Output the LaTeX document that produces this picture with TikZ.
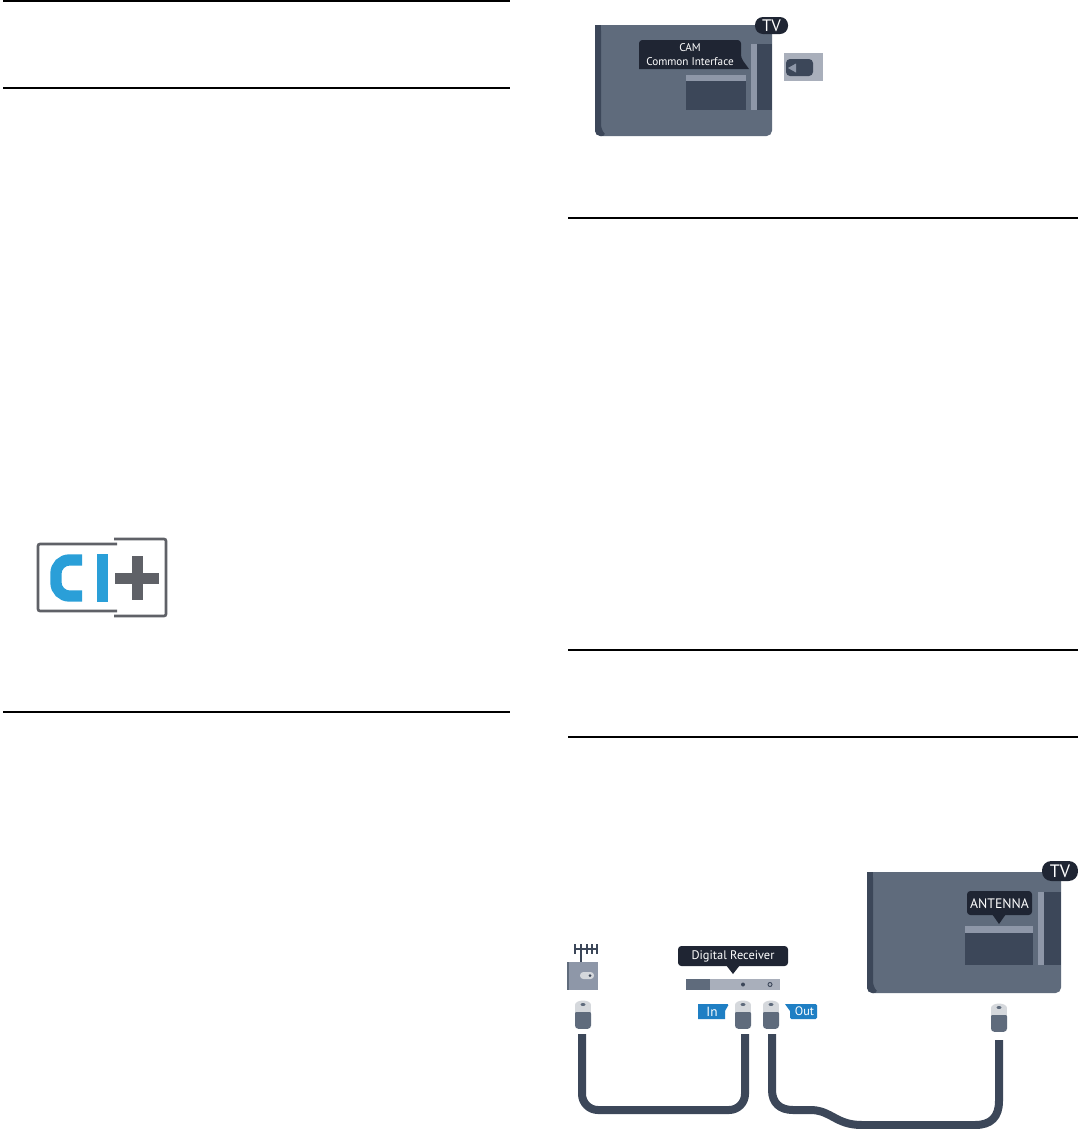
\documentclass[tikz,border=0pt]{standalone}
\usepackage{fontspec}
\setmainfont{PT Sans}
\usepackage{xcolor}
\usetikzlibrary{calc}
\definecolor{tvbody}{HTML}{5F6B7C}
\definecolor{tvdark}{HTML}{3C4759}
\definecolor{tvlight}{HTML}{8E97A8}
\definecolor{tvpanel}{HTML}{A9AFBB}
\definecolor{tagdark}{HTML}{1F2533}
\definecolor{tagblue}{HTML}{1F7FC4}
\definecolor{ciblue}{HTML}{2A9FD8}
\definecolor{cigray}{HTML}{5F6167}
\definecolor{plugcap}{HTML}{D5D8DC}
\tikzset{
  rule/.style={black,line width=1.5pt},
  cable/.style={tvdark,line width=6pt},
  tagtext/.style={text=white,inner sep=0pt,align=center},
  plugbody/.style={fill=tvbody,rounded corners=2.5pt,minimum width=12pt,minimum height=14pt,inner sep=0pt},
  cibracket/.style={cigray,line width=2pt,rounded corners=1.5pt},
  aerial/.style={tvdark,line width=1.4pt}
}
\begin{document}
\begin{tikzpicture}[x=0.75pt,y=-0.75pt]
\fill[white] (0,0) rectangle (1078,1129);
\useasboundingbox (0,0) rectangle (1078,1129);
% rules
\draw[rule] (3,1) -- (510,1);
\draw[rule] (3,88) -- (510,88);
\draw[rule] (3,712) -- (510,712);
\draw[rule] (568,218) -- (1078,218);
\draw[rule] (568,650) -- (1078,650);
\draw[rule] (568,737) -- (1078,737);
% CI+ logo
\draw[cibracket] (117,544) -- (38,544) -- (38,611) -- (117,611);
\draw[cibracket] (114,539) -- (166,539) -- (166,616) -- (114,616);
\draw[ciblue,line width=8.5pt,rounded corners=10pt] (82,560) -- (56,560) -- (56,596) -- (82,596);
\fill[ciblue] (97,554) rectangle (108,602);
\fill[cigray] (115,573) rectangle (159,584);
\fill[cigray] (132,556) rectangle (143,600);
% TV with CAM
\fill[tvbody,rounded corners=4pt] (595,25) -- (595,136) -- (772,136) -- (772,25) [sharp corners] -- cycle;
\fill[tvbody] (595,25) rectangle (772,60);
\fill[tvdark,rounded corners=4pt] (595,25) -- (595,136) -- (607,136) -- (601,130) -- (601,25) [sharp corners] -- cycle;
\fill[tvdark] (595,25) rectangle (601,60);
\fill[tvdark] (757,44) rectangle (772,110);
\fill[tvlight] (751,44) rectangle (757,110);
\fill[tvlight] (686,75) rectangle (746,81);
\fill[tvdark] (686,81) rectangle (746,110);
\fill[tagdark,rounded corners=2.5pt] (639,40) -- (741,40) -- (741,58) [sharp corners] -- (749,69) -- (639,69) [rounded corners=2.5pt] -- cycle;
\node[tagtext,font=\fontsize{8.4pt}{10.5pt}\selectfont] (camtag) at (690,54.5) {CAM\\Common Interface};
\fill[tagdark,rounded corners=6pt] (755,17) rectangle (788,34);
\node[tagtext,font=\fontsize{12.5pt}{13pt}\selectfont] (tvtagA) at (771.5,25.5) {TV};
% CAM card
\fill[tvpanel] (784,53) rectangle (823,81);
\fill[tvdark,rounded corners=3pt] (786,59) rectangle (813,76);
\fill[tvlight] (796,63.5) -- (796,72.5) -- (788,68) -- cycle;
% TV with antenna socket
\fill[tvbody,rounded corners=4pt] (867,872) -- (867,993) -- (1061,993) -- (1061,872) [sharp corners] -- cycle;
\fill[tvbody] (867,872) rectangle (1061,910);
\fill[tvdark,rounded corners=4pt] (867,872) -- (867,993) -- (879,993) -- (873,987) -- (873,872) [sharp corners] -- cycle;
\fill[tvdark] (867,872) rectangle (873,910);
\fill[tvdark] (1044,892) rectangle (1061,965);
\fill[tvlight] (1038,892) rectangle (1044,965);
\fill[tvlight] (965,926) rectangle (1033,933);
\fill[tvdark] (965,933) rectangle (1033,965);
\fill[tagdark,rounded corners=2.5pt] (967,891) rectangle (1032,915);
\fill[tagdark] (992,914) -- (1006,914) -- (999,924) -- cycle;
\node[tagtext,font=\fontsize{10.3pt}{12pt}\selectfont] (anttag) at (999.5,904) {ANTENNA};
\fill[tagdark,rounded corners=7pt] (1042,861) rectangle (1078,881);
\node[tagtext,font=\fontsize{13.5pt}{14pt}\selectfont] (tvtagB) at (1060,871) {TV};
% aerial
\draw[aerial] (574,949) -- (598,949);
\draw[aerial] (575,944) -- (575,954);
\draw[aerial] (587,944) -- (587,954);
\draw[aerial] (592,944) -- (592,954);
\draw[aerial] (597,944) -- (597,954);
\draw[aerial] (581,944) -- (581,962);
\fill[tvlight] (567,962) rectangle (598,990);
\fill[tvbody] (567,962) rectangle (569,990);
\fill[plugcap,rounded corners=2.5pt] (580,972) rectangle (594,979);
\fill[tvdark] (590,975.5) circle (1.5);
% digital receiver
\fill[tvpanel] (686,979) rectangle (780,990);
\fill[tvbody] (686,979) rectangle (710,990);
\fill[tvdark] (743,984.5) circle (2);
\draw[tvdark,line width=0.7pt] (770,984.5) circle (2);
\fill[tagdark,rounded corners=2.5pt] (678,946) rectangle (788,966);
\fill[tagdark] (726,965) -- (740,965) -- (733,974) -- cycle;
\node[tagtext,font=\fontsize{9.3pt}{12pt}\selectfont] (rectag) at (733,956) {Digital Receiver};
% plugs
\foreach \plugname/\plugx/\plugy in {plugant/583/1000,plugin/743/1000,plugout/771/1000,plugtv/999/1003}{
  \node[plugbody] (\plugname) at (\plugx,\plugy+19.5) {};
  \fill[plugcap] (\plugx-8,\plugy+5) rectangle (\plugx+8,\plugy+11.5);
  \fill[plugcap] (\plugx,\plugy+5) ellipse (8 and 4.5);
  \fill[tvbody] (\plugx,\plugy+4.5) ellipse (2.5 and 1.5);
}
% In and Out tags
\fill[tagblue,rounded corners=1pt] (698,1004) -- (729,1004) [sharp corners] -- (725,1011) -- (725,1019) -- (698,1019) -- cycle;
\node[tagtext,font=\fontsize{10pt}{12pt}\selectfont] (intag) at (712,1011.5) {In};
\fill[tagblue,rounded corners=1pt] (785,1004) -- (817,1004) -- (817,1019) -- (790,1019) [sharp corners] -- (790,1011) -- cycle;
\node[tagtext,font=\fontsize{9.2pt}{12pt}\selectfont] (outtag) at (804.5,1011.5) {Out};
% cables
\coordinate (antend) at (582,1034);
\coordinate (inend) at (745,1034);
\coordinate (outend) at (772,1034);
\coordinate (tvend) at (999,1040);
\draw[cable,rounded corners=12pt] (antend) -- (582,1110) -- (745,1110) -- (inend);
\draw[cable] (outend) -- (772,1090) .. controls (772,1103) and (780,1110) .. (793,1110)
  -- (812,1110) .. controls (832,1111) and (836,1125) .. (862,1125)
  -- (975,1125) .. controls (991,1125) and (999,1117) .. (999,1101) -- (tvend);
\end{tikzpicture}
\end{document}
